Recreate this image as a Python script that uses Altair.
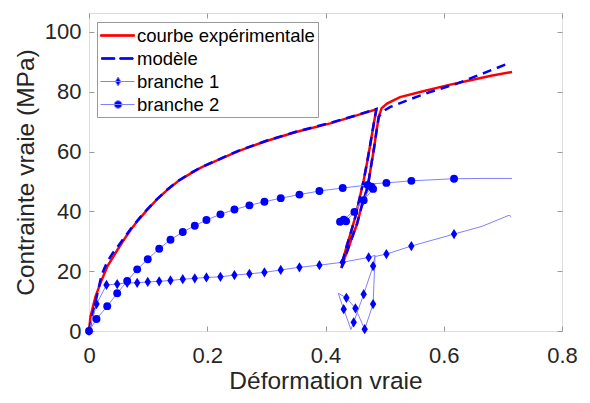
import math
import altair as alt
import pandas as pd

# ---------------- data ----------------
exp_x = [0, 0.0025, 0.011, 0.0194, 0.0308, 0.0477, 0.060, 0.070, 0.083, 0.098, 0.115, 0.132,
         0.150, 0.172, 0.190, 0.211, 0.232, 0.256,
         0.300, 0.350, 0.408, 0.450, 0.486,
         0.481, 0.476, 0.4705, 0.4646, 0.4575, 0.4505, 0.443, 0.436, 0.4305, 0.427,
         0.4315, 0.437, 0.4435, 0.453, 0.461, 0.4715, 0.4765, 0.4815, 0.486, 0.490,
         0.495, 0.504, 0.526, 0.560, 0.6056, 0.645, 0.680, 0.7155]
exp_y = [0, 4.8, 11.5, 16.0, 21.5, 27.0, 30.8, 33.7, 37.0, 40.4, 44.0, 47.1,
         50.0, 52.7, 54.7, 56.5, 58.4, 60.4,
         63.5, 66.5, 69.4, 71.9, 74.1,
         68.5, 62.7, 56.5, 50.4, 44.2, 38.2, 33.0, 28.5, 24.5, 21.0,
         24.0, 26.8, 30.5, 35.6, 41.6, 48.3, 54.5, 60.4, 66.5, 71.6,
         74.5, 76.0, 78.2, 79.9, 82.1, 83.8, 85.3, 86.6]

mod_x = [0, 0.021, 0.026, 0.032, 0.040, 0.050, 0.060, 0.070, 0.083, 0.098, 0.115, 0.132,
         0.150, 0.172, 0.190, 0.211, 0.232, 0.256,
         0.300, 0.350, 0.408, 0.450, 0.486,
         0.481, 0.476, 0.4705, 0.4646, 0.4575, 0.4505, 0.443, 0.436, 0.4305, 0.427,
         0.4315, 0.437, 0.4435, 0.453, 0.461, 0.4715, 0.4765, 0.4815, 0.486, 0.490,
         0.497, 0.5097, 0.538, 0.577, 0.6225, 0.673, 0.711]
mod_y = [0, 18.5, 21.0, 23.5, 26.0, 28.6, 31.3, 34.0, 37.2, 40.6, 44.1, 47.2,
         50.1, 52.8, 54.8, 56.6, 58.5, 60.5,
         63.6, 66.6, 69.6, 72.0, 74.2,
         68.5, 62.7, 56.5, 50.4, 44.2, 38.2, 33.0, 28.5, 24.5, 21.0,
         24.0, 26.8, 30.5, 35.6, 41.6, 48.3, 54.5, 60.4, 66.5, 71.5,
         73.4, 74.9, 77.1, 79.9, 82.7, 86.6, 89.6]

b1_line_x = [0, 0.0127, 0.0296, 0.0477, 0.0646, 0.0815, 0.0994, 0.1187, 0.1378, 0.1586, 0.1789,
             0.1986, 0.2223, 0.246, 0.2713, 0.2967, 0.3243, 0.3559, 0.3897, 0.4291, 0.473,
             0.4838, 0.4805, 0.4646, 0.4477, 0.443, 0.4308, 0.4215, 0.4353, 0.4506, 0.4663,
             0.4805, 0.4838, 0.503, 0.5452, 0.6174, 0.665, 0.7105, 0.714]
b1_line_y = [0, 9.0, 15.4, 15.7, 16.1, 16.1, 16.4, 16.6, 16.9, 17.3, 17.6,
             17.9, 18.1, 18.7, 19.1, 19.6, 20.4, 21.3, 22.0, 23.0, 24.6,
             25.3, 21.7, 12.3, 2.9, 0.5, 7.3, 12.6, 11.1, 7.6, 0.6,
             9.0, 24.9, 25.7, 28.4, 32.4, 35.0, 38.7, 38.2]
b1_mark_x = [0, 0.0127, 0.0296, 0.0477, 0.0646, 0.0815, 0.0994, 0.1187, 0.1378, 0.1586, 0.1789,
             0.1986, 0.2223, 0.246, 0.2713, 0.2967, 0.3243, 0.3559, 0.3897, 0.4291, 0.473,
             0.4805, 0.4646, 0.4477, 0.4308, 0.4353, 0.4506, 0.4663, 0.4805,
             0.503, 0.5452, 0.6174]
b1_mark_y = [0, 9.0, 15.4, 15.7, 16.1, 16.1, 16.4, 16.6, 16.9, 17.3, 17.6,
             17.9, 18.1, 18.7, 19.1, 19.6, 20.4, 21.3, 22.0, 23.0, 24.6,
             21.7, 12.3, 2.9, 7.3, 11.1, 7.6, 0.6, 9.0,
             25.7, 28.4, 32.4]

b2_line_x = [0, 0.0127, 0.0308, 0.0477, 0.0646, 0.0815, 0.0994, 0.1187, 0.1378, 0.1586, 0.1789,
             0.1986, 0.2223, 0.246, 0.2713, 0.2967, 0.3243, 0.3559, 0.3897, 0.4291, 0.4713,
             0.4838, 0.4805, 0.4646, 0.4489, 0.4348, 0.4246, 0.4308, 0.4489, 0.4646, 0.4775,
             0.4838, 0.503, 0.5452, 0.6174, 0.665, 0.7155]
b2_line_y = [0, 4.0, 8.3, 12.6, 16.7, 20.6, 24.0, 27.5, 30.5, 33.1, 35.2,
             37.1, 39.0, 40.6, 42.0, 43.2, 44.4, 45.6, 46.8, 47.8, 48.8,
             49.2, 47.5, 43.7, 39.8, 36.7, 36.5, 37.2, 40.3, 44.3, 48.2,
             49.3, 49.5, 50.2, 50.9, 51.0, 51.0]
b2_mark_x = [0, 0.0127, 0.0308, 0.0477, 0.0646, 0.0815, 0.0994, 0.1187, 0.1378, 0.1586, 0.1789,
             0.1986, 0.2223, 0.246, 0.2713, 0.2967, 0.3243, 0.3559, 0.3897, 0.4291, 0.4713,
             0.4805, 0.4646, 0.4489, 0.4348, 0.4246, 0.4308, 0.4775,
             0.503, 0.5452, 0.6174]
b2_mark_y = [0, 4.0, 8.3, 12.6, 16.7, 20.6, 24.0, 27.5, 30.5, 33.1, 35.2,
             37.1, 39.0, 40.6, 42.0, 43.2, 44.4, 45.6, 46.8, 47.8, 48.8,
             47.5, 43.7, 39.8, 36.7, 36.5, 37.2, 48.2,
             49.5, 50.2, 50.9]

series_names = ["courbe expérimentale", "modèle", "branche 1", "branche 2"]
x_ticks = [0, 0.2, 0.4, 0.6, 0.8]
y_ticks = [0, 20, 40, 60, 80, 100]

# ---------------- styling ----------------
FONT = "Liberation Sans"
TXT = "#262626"
GRAY = "#999999"
RED = "#ff0000"
BLUE = "#0000ff"
LIGHT = "#8080ff"
W, H = 473, 318

xs = alt.Scale(domain=[0, 0.8], nice=False, zero=False)
ys = alt.Scale(domain=[0, 106.3], nice=False, zero=False)


def frame(xv, yv):
    return pd.DataFrame({"x": xv, "y": yv, "i": list(range(len(xv)))})


exp_df = frame(exp_x, exp_y)
mod_df = frame(mod_x, mod_y)
b1l_df = frame(b1_line_x, b1_line_y)
b1m_df = frame(b1_mark_x, b1_mark_y)
b2l_df = frame(b2_line_x, b2_line_y)
b2m_df = frame(b2_mark_x, b2_mark_y)

X0 = alt.X("x:Q", scale=xs, axis=None)
Y0 = alt.Y("y:Q", scale=ys, axis=None)

main_x = alt.X("x:Q", scale=xs, axis=alt.Axis(
    values=x_ticks, format=".1~f", labelFont=FONT, labelFontSize=22, labelColor=TXT,
    labelPadding=14, labelFlush=False, ticks=False, tickSize=0, domain=False, grid=False,
    title="Déformation vraie", titleFont=FONT, titleFontSize=24.5, titleColor=TXT,
    titleFontWeight="normal", titlePadding=3))
main_y = alt.Y("y:Q", scale=ys, axis=alt.Axis(
    values=y_ticks, format="d", labelFont=FONT, labelFontSize=22, labelColor=TXT,
    labelPadding=8, labelFlush=False, ticks=False, tickSize=0, domain=False, grid=False,
    title="Contrainte vraie (MPa)", titleFont=FONT, titleFontSize=24.5, titleColor=TXT,
    titleFontWeight="normal", titlePadding=6))

exp_layer = alt.Chart(exp_df).mark_line(color=RED, strokeWidth=2.5).encode(
    x=main_x, y=main_y, order="i:Q")
mod_layer = alt.Chart(mod_df).mark_line(color=BLUE, strokeWidth=2.5, strokeDash=[9, 6]).encode(
    x=X0, y=Y0, order="i:Q")
b1l_layer = alt.Chart(b1l_df).mark_line(color=LIGHT, strokeWidth=1).encode(x=X0, y=Y0, order="i:Q")
b2l_layer = alt.Chart(b2l_df).mark_line(color=LIGHT, strokeWidth=1).encode(x=X0, y=Y0, order="i:Q")
b1m_layer = alt.Chart(b1m_df).mark_point(
    filled=True, opacity=1, color=BLUE, shape="M0,-1L0.62,0L0,1L-0.62,0Z", size=105
).encode(x=X0, y=Y0)
b2m_layer = alt.Chart(b2m_df).mark_point(
    filled=True, opacity=1, color=BLUE, shape="circle", size=62
).encode(x=X0, y=Y0)

# inward ticks (bottom / left)
tick_a = alt.Chart(b1m_df).transform_filter("false").mark_point().encode(
    x=alt.X("x:Q", scale=xs, axis=alt.Axis(orient="top", offset=-H, values=x_ticks, labels=False,
                                           ticks=True, tickSize=5, tickColor=GRAY, domain=False,
                                           grid=False, title=None)),
    y=alt.Y("y:Q", scale=ys, axis=alt.Axis(orient="right", offset=-W, values=y_ticks, labels=False,
                                           ticks=True, tickSize=5, tickColor=GRAY, domain=False,
                                           grid=False, title=None)))
# inward ticks (top / right)
tick_b = alt.Chart(b1m_df).transform_filter("false").mark_point().encode(
    x=alt.X("x:Q", scale=xs, axis=alt.Axis(orient="bottom", offset=-H, values=x_ticks, labels=False,
                                           ticks=True, tickSize=5, tickColor=GRAY, domain=False,
                                           grid=False, title=None)),
    y=alt.Y("y:Q", scale=ys, axis=alt.Axis(orient="left", offset=-W, values=y_ticks, labels=False,
                                           ticks=True, tickSize=5, tickColor=GRAY, domain=False,
                                           grid=False, title=None)))

# legend (symbols drawn as line + marker glyphs)
def circle_path(cx, r, n=20):
    pts = [(cx + r * math.cos(2 * math.pi * k / n), r * math.sin(2 * math.pi * k / n)) for k in range(n)]
    return "M" + "L".join(f"{px:.3f},{py:.3f}" for px, py in pts) + "Z"

legend_shapes = [
    "M-1,-0.08L2.4,-0.08L2.4,0.08L-1,0.08Z",
    "M-0.9,-0.08L0.43,-0.08L0.43,0.08L-0.9,0.08ZM0.93,-0.08L2.26,-0.08L2.26,0.08L0.93,0.08Z",
    "M-1,0L2.4,0M0.76,-0.45L1.04,0L0.76,0.45L0.48,0Z",
    "M-1,0L2.4,0" + circle_path(0.76, 0.38),
]
legend_fill = [RED, BLUE, BLUE, BLUE]
legend_stroke = [RED, BLUE, LIGHT, LIGHT]

leg_df = pd.DataFrame({"serie": series_names})
leg_common = dict(title=None, orient="none", legendX=8, legendY=9, padding=3,
                  strokeColor=GRAY, fillColor="white", labelFont=FONT, labelFontSize=18.5,
                  labelColor="#000000", labelLimit=400, symbolSize=400, symbolStrokeWidth=1,
                  labelOffset=16, rowPadding=3, cornerRadius=0)
legend_layer = alt.Chart(leg_df).transform_filter("false").mark_point(
    filled=True, opacity=1, strokeWidth=1
).encode(
    color=alt.Color("serie:N", scale=alt.Scale(domain=series_names, range=legend_fill),
                    legend=alt.Legend(**leg_common)),
    stroke=alt.Stroke("serie:N", scale=alt.Scale(domain=series_names, range=legend_stroke),
                      legend=alt.Legend(**leg_common)),
    shape=alt.Shape("serie:N", scale=alt.Scale(domain=series_names, range=legend_shapes),
                    legend=alt.Legend(**leg_common)),
)

chart = alt.layer(
    exp_layer, mod_layer, b1l_layer, b2l_layer, b1m_layer, b2m_layer, tick_a, tick_b, legend_layer
).resolve_axis(
    x="independent", y="independent"
).properties(
    width=W, height=H,
    autosize=alt.AutoSizeParams(type="none"),
    padding={"left": 81, "top": 5, "right": 20, "bottom": 64},
).configure_view(
    stroke=GRAY, strokeWidth=1
).configure(
    background="white"
)

chart.save("out.html", embed_options={"renderer": "svg", "actions": False})
